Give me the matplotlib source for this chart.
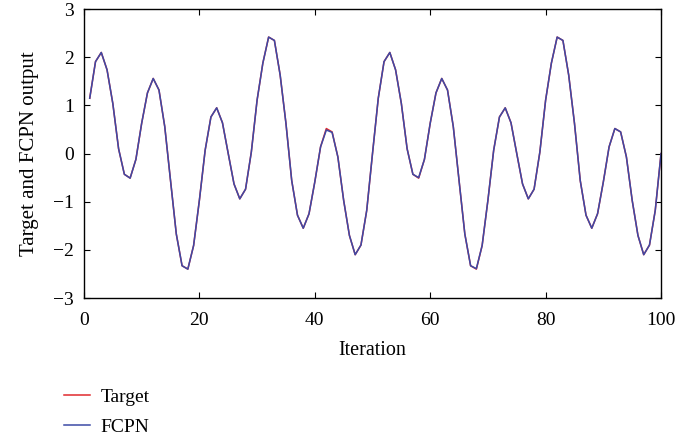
import numpy as np
import matplotlib.pyplot as plt

plt.rcParams['font.family'] = ['Liberation Serif', 'DejaVu Serif']
plt.rcParams['axes.unicode_minus'] = True

iteration = np.arange(1, 101)
target = [1.15, 1.91, 2.10, 1.74, 1.04, 0.10, -0.43, -0.51, -0.12, 0.63,
          1.26, 1.56, 1.32, 0.56, -0.56, -1.67, -2.33, -2.40, -1.91, -0.97,
          0.07, 0.76, 0.95, 0.64, 0.00, -0.63, -0.94, -0.74, 0.03, 1.11,
          1.88, 2.42, 2.35, 1.63, 0.63, -0.56, -1.28, -1.55, -1.25, -0.59,
          0.14, 0.52, 0.45, -0.07, -0.97, -1.70, -2.10, -1.90, -1.18, 0.00,
          1.15, 1.91, 2.10, 1.74, 1.04, 0.10, -0.43, -0.51, -0.12, 0.63,
          1.26, 1.56, 1.32, 0.56, -0.56, -1.67, -2.33, -2.40, -1.91, -0.97,
          0.07, 0.76, 0.95, 0.64, 0.00, -0.63, -0.94, -0.74, 0.03, 1.11,
          1.88, 2.42, 2.35, 1.63, 0.63, -0.56, -1.28, -1.55, -1.25, -0.59,
          0.14, 0.52, 0.45, -0.07, -0.97, -1.70, -2.10, -1.90, -1.18, 0.00]
fcpn = [1.15, 1.91, 2.10, 1.74, 1.04, 0.10, -0.43, -0.51, -0.12, 0.63,
        1.26, 1.56, 1.32, 0.56, -0.56, -1.67, -2.33, -2.40, -1.91, -0.97,
        0.07, 0.76, 0.95, 0.64, 0.00, -0.63, -0.94, -0.74, 0.03, 1.11,
        1.88, 2.42, 2.35, 1.63, 0.63, -0.56, -1.28, -1.55, -1.25, -0.59,
        0.14, 0.49, 0.44, -0.07, -0.97, -1.70, -2.10, -1.90, -1.18, 0.00,
        1.15, 1.91, 2.10, 1.74, 1.04, 0.10, -0.43, -0.50, -0.12, 0.63,
        1.26, 1.56, 1.32, 0.56, -0.56, -1.67, -2.33, -2.39, -1.91, -0.97,
        0.07, 0.76, 0.95, 0.64, 0.00, -0.63, -0.94, -0.74, 0.03, 1.11,
        1.88, 2.42, 2.35, 1.63, 0.63, -0.56, -1.28, -1.55, -1.25, -0.59,
        0.14, 0.52, 0.45, -0.07, -0.97, -1.70, -2.10, -1.90, -1.18, 0.00]

fig = plt.figure(figsize=(6.86, 4.36), dpi=100)
ax = fig.add_axes([0.1224, 0.3165, 0.8412, 0.6625])
l1, = ax.plot(iteration, target, color='#e02a2e', linewidth=1.1, label='Target')
l2, = ax.plot(iteration, fcpn, color='#3c4aa6', linewidth=1.1, label='FCPN')
ax.set_xlim(0, 100)
ax.set_ylim(-3, 3)
ax.set_xticks(np.arange(0, 101, 20))
ax.set_yticks(np.arange(-3, 4, 1))
ax.tick_params(direction='in', top=True, right=True, labelsize=14, length=4)
ax.tick_params(axis='x', pad=10)
ax.tick_params(axis='y', pad=7)
for s in ax.spines.values():
    s.set_linewidth(1.0)
ax.set_xlabel('Iteration', fontsize=14.5, labelpad=9)
ax.set_ylabel('Target and FCPN output', fontsize=15, labelpad=10)

fig.legend(handles=[l1, l2], loc='upper left', bbox_to_anchor=(0.093, 0.11),
           frameon=False, fontsize=14, handlelength=1.35, handletextpad=0.55,
           labelspacing=0.65, borderaxespad=0, borderpad=0)
fig.savefig('out.png', dpi=100)
